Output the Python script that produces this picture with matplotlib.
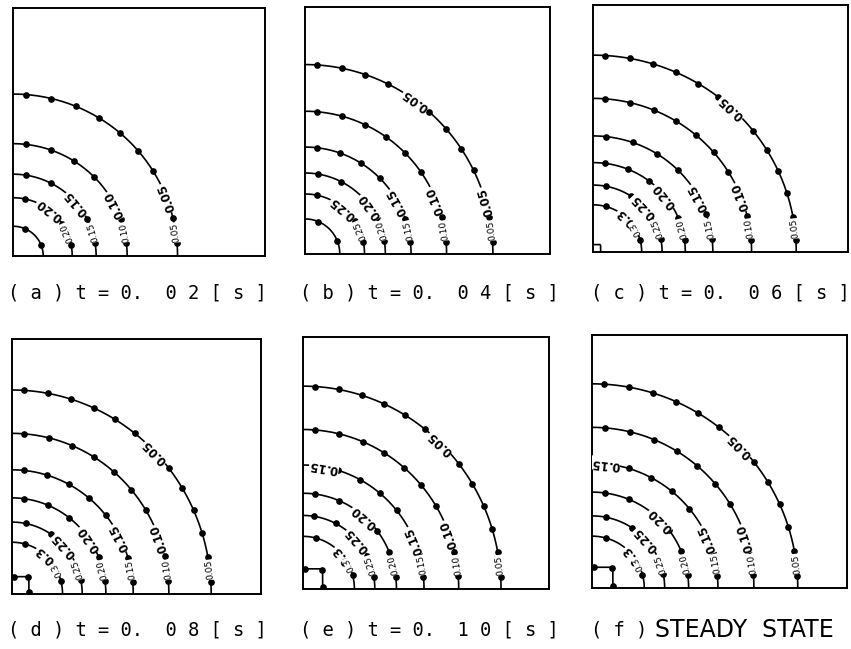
import numpy as np
import matplotlib.pyplot as plt

# isoline values and radii (fraction of the square side), outer to inner
levels_a = ['0.05', '0.10', '0.15', '0.20', '0.25']
radii_a = [0.653, 0.453, 0.330, 0.235, 0.120]

levels_b = ['0.05', '0.10', '0.15', '0.20', '0.25', '0.30']
radii_b = [0.767, 0.578, 0.433, 0.328, 0.243, 0.142]

levels_c = ['0.05', '0.10', '0.15', '0.20', '0.25', '0.3', '0.35']
radii_c = [0.797, 0.622, 0.470, 0.362, 0.271, 0.191, 0.030]

levels_d = ['0.05', '0.10', '0.15', '0.20', '0.25', '0.3', '0.35']
radii_d = [0.800, 0.630, 0.487, 0.377, 0.282, 0.203, 0.068]

levels_e = ['0.05', '0.10', '0.15', '0.20', '0.25', '0.3', '0.35']
radii_e = [0.805, 0.633, 0.492, 0.380, 0.292, 0.209, 0.080]

levels_f = ['0.05', '0.10', '0.15', '0.20', '0.25', '0.3', '0.35']
radii_f = [0.807, 0.635, 0.494, 0.379, 0.285, 0.205, 0.082]

captions = ['( a ) t = 0.  0 2 [ s ]', '( b ) t = 0.  0 4 [ s ]',
            '( c ) t = 0.  0 6 [ s ]', '( d ) t = 0.  0 8 [ s ]',
            '( e ) t = 0.  1 0 [ s ]', '( f )']

# label angles along each isoline [deg], empty = no label
label_ang = {
    'a': [[21], [27], [40], [52], []],
    'b': [[54, 16], [22], [29], [36], [50], []],
    'c': [[47], [21], [28], [39], [43], [47], []],
    'd': [[44], [20], [27], [35], [42], [49], []],
    'e': [[46], [20], [80, 23], [49], [41], [40], []],
    'f': [[44], [18], [84, 23], [45], [42], [39], []],
}

# axes boxes in pixels: left, right, top, bottom
W, H = 851, 649
boxes = {'a': (13, 265, 8, 256), 'b': (305, 550, 7, 254), 'c': (593, 848, 5, 252),
         'd': (12, 261, 339, 594), 'e': (303, 549, 337, 589), 'f': (592, 847, 335, 588)}
panels = [('a', levels_a, radii_a), ('b', levels_b, radii_b), ('c', levels_c, radii_c),
          ('d', levels_d, radii_d), ('e', levels_e, radii_e), ('f', levels_f, radii_f)]

fig = plt.figure(figsize=(W / 100, H / 100), dpi=100)

def arc(r, t):
    if r < 0.1:
        # coarse corner isoline, drawn boxy like the mesh output
        x = r * np.clip(1.35 * np.cos(t), 0, 1)
        y = r * np.clip(1.35 * np.sin(t), 0, 1)
        return x, y
    return r * np.cos(t), r * np.sin(t)

for key, levels, radii in panels:
    l, r_, t, b = boxes[key]
    ax = fig.add_axes([l / W, 1 - b / H, (r_ - l) / W, (b - t) / H])
    ax.set_xlim(0, 1)
    ax.set_ylim(0, 1)
    ax.set_xticks([])
    ax.set_yticks([])
    for s in ax.spines.values():
        s.set_linewidth(1.4)

    for lev, r, angs in zip(levels, radii, label_ang[key]):
        t = np.linspace(0, np.pi / 2, 200)
        x, y = arc(r, t)
        ax.plot(x, y, color='black', lw=1.2)
        if r > 0.05:
            n = max(2, int(round(r * np.pi / 2 / 0.1)))
            tm = (np.arange(n) + 0.5) / n * np.pi / 2
            if r < 0.1:
                tm = np.array([0.08, np.pi / 4, np.pi / 2 - 0.08])
            xm, ym = arc(r, tm)
            ax.plot(xm, ym, 'o', color='black', ms=3.8)

        for a in angs:
            ar = np.radians(a)
            ax.text(r * np.cos(ar), r * np.sin(ar), lev, rotation=a + 90,
                    rotation_mode='anchor', ha='center', va='center',
                    fontsize=8.5, fontweight='bold', color='black', clip_on=True,
                    bbox=dict(facecolor='white', edgecolor='none', pad=0.3))
        # small labels near the bottom edge
        if r > 0.15:
            yb = 0.095
            ab = np.degrees(np.arcsin(yb / r))
            ax.text(np.sqrt(r ** 2 - yb ** 2), yb, lev, rotation=ab + 90,
                    rotation_mode='anchor', ha='center', va='center',
                    fontsize=6.5, color='black',
                    bbox=dict(facecolor='white', edgecolor='none', pad=0.1))

cap_x = [8, 300, 591]
for i, cap in enumerate(captions):
    y = 293 if i < 3 else 630
    fig.text(cap_x[i % 3] / W, 1 - y / H, cap, ha='left', va='center',
             fontsize=13.5, family='DejaVu Sans Mono')
fig.text(655 / W, 1 - 630 / H, 'STEADY  STATE', ha='left', va='center',
         fontsize=17, family=['Liberation Sans Narrow', 'DejaVu Sans'])

fig.savefig('out.png', dpi=100, facecolor='white')
